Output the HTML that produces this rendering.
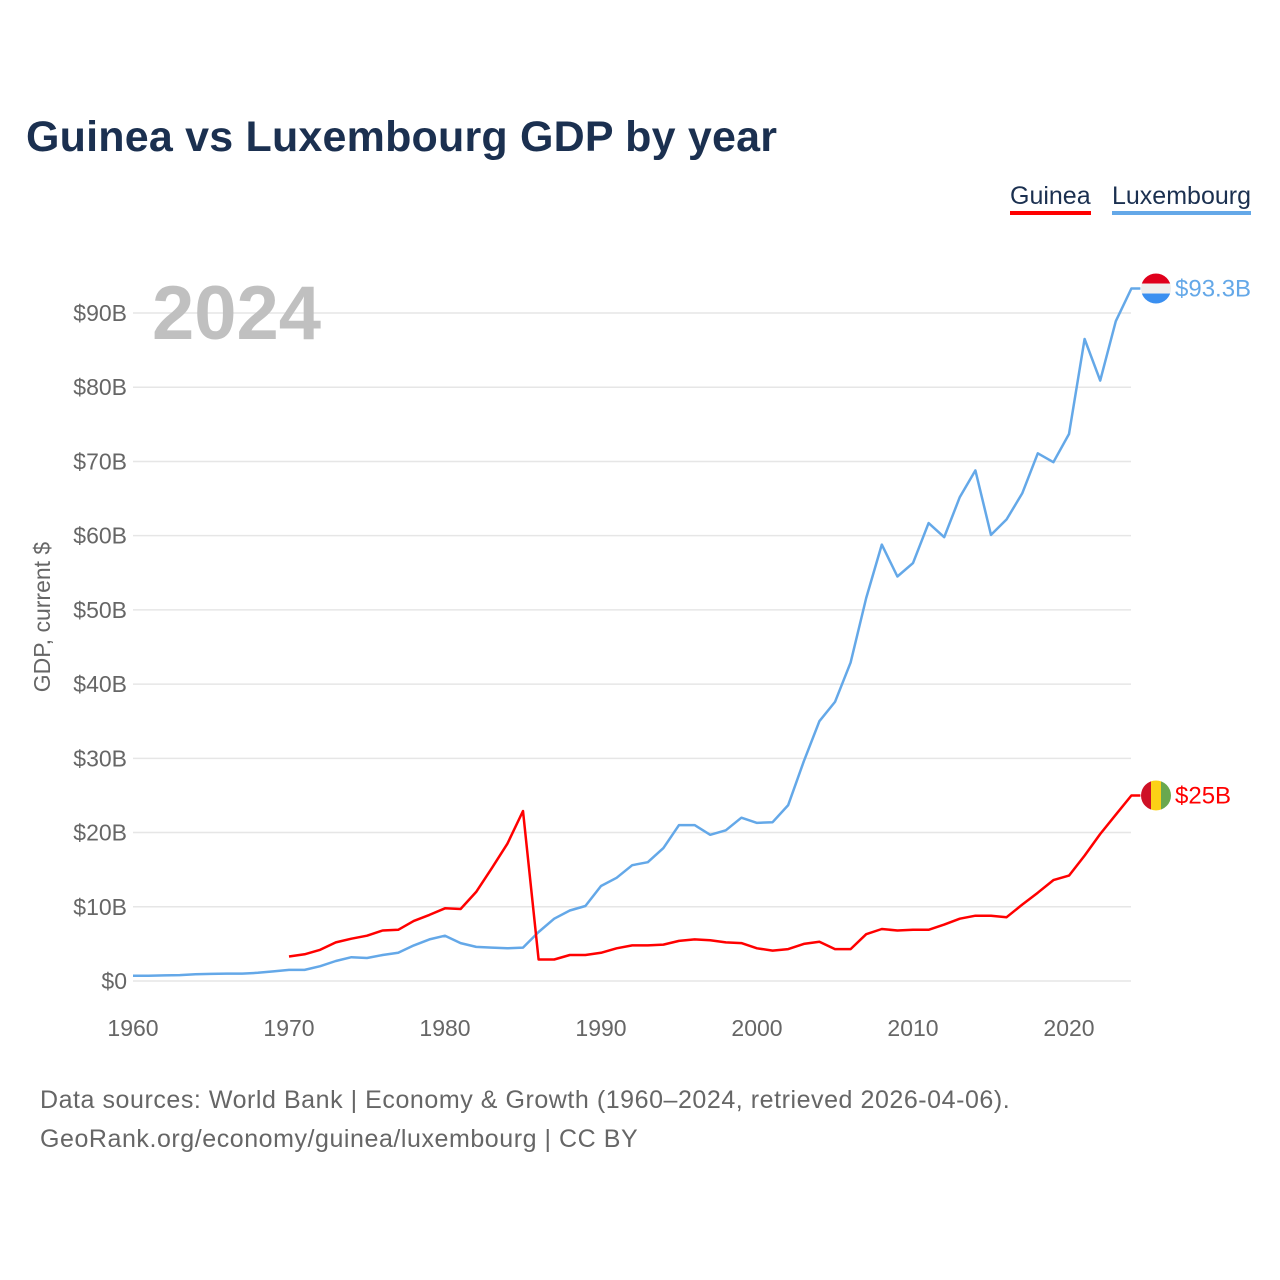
<!DOCTYPE html>
<html><head><meta charset="utf-8"><style>
body{margin:0;background:#fff;font-family:"Liberation Sans",sans-serif;}
#wrap{position:relative;width:1280px;height:1280px;overflow:hidden;}
.t{position:absolute;white-space:nowrap;}
</style></head><body>
<div id="wrap">
<div class="t" style="left:26px;top:113px;font-size:43px;font-weight:bold;color:#1b3050;letter-spacing:0.2px;">Guinea vs Luxembourg GDP by year</div>
<div class="t" style="left:1010px;top:181px;font-size:25px;color:#1b3050;border-bottom:4px solid #ff0000;line-height:30px;">Guinea</div>
<div class="t" style="left:1112px;top:181px;font-size:25px;color:#1b3050;border-bottom:4px solid #64a8e8;line-height:30px;">Luxembourg</div>
<div class="t" style="left:40px;top:1081px;font-size:25px;color:#666;line-height:39px;letter-spacing:0.55px;">Data sources: World Bank | Economy &amp; Growth (1960–2024, retrieved 2026-04-06).<br>GeoRank.org/economy/guinea/luxembourg | CC BY</div>
<svg id="chart" width="1280" height="1280" style="position:absolute;left:0;top:0"></svg>
</div>
<script>
const years=[];for(let y=1960;y<=2024;y++)years.push(y);
const luxembourg=[0.7,0.7,0.75,0.8,0.9,0.95,1.0,1.0,1.1,1.3,1.5,1.5,2.0,2.7,3.2,3.1,3.5,3.8,4.8,5.6,6.1,5.1,4.6,4.5,4.4,4.5,6.6,8.4,9.5,10.1,12.8,13.9,15.6,16.0,17.9,21.0,21.0,19.7,20.3,22.0,21.3,21.4,23.7,29.6,35.0,37.6,42.9,51.6,58.8,54.5,56.3,61.7,59.8,65.2,68.8,60.1,62.2,65.7,71.1,69.9,73.7,86.5,80.9,88.9,93.3];
const guineaYears=[];for(let y=1970;y<=2024;y++)guineaYears.push(y);
const guinea=[3.3,3.6,4.2,5.2,5.7,6.1,6.8,6.9,8.1,8.9,9.8,9.7,12.0,15.2,18.5,22.9,2.9,2.9,3.5,3.5,3.8,4.4,4.8,4.8,4.9,5.4,5.6,5.5,5.2,5.1,4.4,4.1,4.3,5.0,5.3,4.3,4.3,6.3,7.0,6.8,6.9,6.9,7.6,8.4,8.8,8.8,8.6,10.3,11.9,13.6,14.2,16.9,19.8,22.4,25.0];
const yTicks=[0,10,20,30,40,50,60,70,80,90];
const yTickLabels=["$0","$10B","$20B","$30B","$40B","$50B","$60B","$70B","$80B","$90B"];
const xTicks=[1960,1970,1980,1990,2000,2010,2020];
const NS="http://www.w3.org/2000/svg";
const svg=document.getElementById('chart');
const X=y=>133+(y-1960)*15.6;
const Y=v=>981-v*7.422;
function mk(tag,attrs,parent){const e=document.createElementNS(NS,tag);for(const k in attrs)e.setAttribute(k,attrs[k]);(parent||svg).appendChild(e);return e;}
yTicks.forEach((v,i)=>{
  const g=mk('line',{x1:133,x2:1131,y1:Y(v),y2:Y(v),stroke:'#e6e6e6','stroke-width':1.5});
  
  
  const t=mk('text',{x:127,y:Y(v)+8,'text-anchor':'end','font-size':23,fill:'#666','font-family':'Liberation Sans, sans-serif'});
  t.textContent=yTickLabels[i];
  
  
});
xTicks.forEach(v=>{
  const t=mk('text',{x:X(v),y:1036,'text-anchor':'middle','font-size':23,fill:'#666','font-family':'Liberation Sans, sans-serif'});
  t.textContent=v;
  
  
});
const yt=mk('text',{x:0,y:0,transform:'translate(50,617) rotate(-90)','text-anchor':'middle','font-size':23,fill:'#666','font-family':'Liberation Sans, sans-serif'});
yt.textContent='GDP, current $';


const yr=mk('text',{x:152,y:339,'font-size':76,'font-weight':'bold',fill:'#c0c0c0','font-family':'Liberation Sans, sans-serif'});
yr.textContent='2024';


function series(xs,vals,color,name){
  let d=xs.map((y,i)=>(i?'L':'M')+X(y).toFixed(1)+','+Y(vals[i]).toFixed(1)).join(' ');
  d+=' L'+(X(xs[xs.length-1])+9)+','+Y(vals[vals.length-1]).toFixed(1);
  const p=mk('path',{d:d,fill:'none',stroke:color,'stroke-width':2.5,'stroke-linejoin':'round'});
  
  
}
series(years,luxembourg,'#64a8e8','luxembourg-line');
series(guineaYears,guinea,'#ff0000','guinea-line');
function flag(cy,colors,vertical,name){
  const g=mk('g',{});
  
  
  const id='c'+name;
  const cp=mk('clipPath',{id:id},g);mk('circle',{cx:1156,cy:cy,r:15},cp);
  colors.forEach((c,i)=>{
    if(vertical)mk('rect',{x:1141+i*10,y:cy-15,width:10.2,height:30,fill:c,'clip-path':'url(#'+id+')'},g);
    else mk('rect',{x:1141,y:cy-15+i*10,width:30,height:10.2,fill:c,'clip-path':'url(#'+id+')'},g);
  });
}
flag(Y(93.3),['#e0001c','#eeeeee','#3a8ff0'],false,'luxembourg-flag');
flag(Y(25),['#ce1126','#fcd116','#6aa84f'],true,'guinea-flag');
const l1=mk('text',{x:1175,y:Y(93.3)+8,'font-size':24,fill:'#64a8e8','font-family':'Liberation Sans, sans-serif'});
l1.textContent='$93.3B';


const l2=mk('text',{x:1175,y:Y(25)+8,'font-size':24,fill:'#ff0000','font-family':'Liberation Sans, sans-serif'});
l2.textContent='$25B';


</script>
</body></html>
